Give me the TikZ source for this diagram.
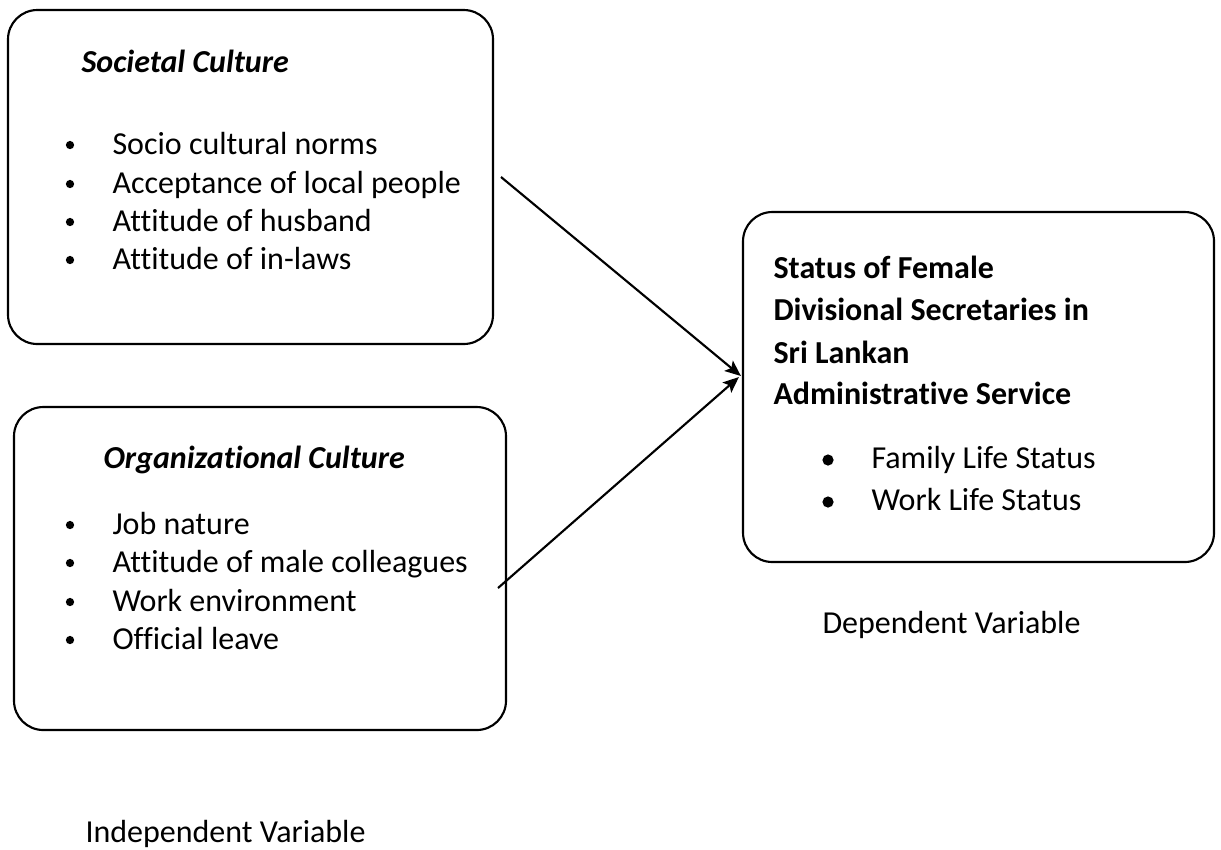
\documentclass[tikz,border=0pt]{standalone}
\usepackage{fontspec}
\setmainfont{Carlito}[Ligatures=NoCommon]
\usepackage{tikz}
\usetikzlibrary{calc, positioning, fit, arrows.meta}

\tikzset{
  box/.style={draw=black, line width=0.8pt, rounded corners=11pt, inner sep=0pt},
  item/.style={anchor=base west, inner sep=0pt},
  dot/.style={circle, fill=black, inner sep=0pt, minimum size=3.1pt},
  bigdot/.style={circle, fill=black, inner sep=0pt, minimum size=4.2pt},
  arr/.style={line width=0.8pt, -{Stealth[length=6pt, width=5pt, inset=1.3pt]}}
}

\begin{document}
\begin{tikzpicture}[x=0.375pt, y=-0.375pt, font=\fontsize{12}{14.4}\selectfont]
          \useasboundingbox (0,0) rectangle (1221,849);
          % Boxes
          \node[box, fit={(8,10) (493,344)}] (societal) {};
          \node[box, fit={(14,407) (506,730)}] (organizational) {};
          \node[box, fit={(743,212) (1214,562)}] (status) {};
          % Societal culture
          \node[item] (socTitle) at (81,72) {\textbf{\textit{Societal Culture}}};
          \node[dot] (socDotA) at (70,145) {};
          \node[item] (socA) at (112,154) {Socio cultural norms};
          \node[dot] (socDotB) at (70,184) {};
          \node[item] (socB) at (112,193) {Acceptance of local people};
          \node[dot] (socDotC) at (70,222) {};
          \node[item] (socC) at (112,231) {Attitude of husband};
          \node[dot] (socDotD) at (70,260) {};
          \node[item] (socD) at (112,269) {Attitude of in-laws};
          % Organizational culture
          \node[item] (orgTitle) at (103,468) {\textbf{\textit{Organizational Culture}}};
          \node[dot] (orgDotA) at (70,525) {};
          \node[item] (orgA) at (112,534) {Job nature};
          \node[dot] (orgDotB) at (70,563) {};
          \node[item] (orgB) at (112,572) {Attitude of male colleagues};
          \node[dot] (orgDotC) at (70,602) {};
          \node[item] (orgC) at (112,611) {Work environment};
          \node[dot] (orgDotD) at (70,640) {};
          \node[item] (orgD) at (112,649) {Official leave};
          % Status of female divisional secretaries
          \node[item] (statA) at (773,278) {\textbf{Status of Female}};
          \node[item] (statB) at (773,320) {\textbf{Divisional Secretaries in}};
          \node[item] (statC) at (773,363) {\textbf{Sri Lankan}};
          \node[item] (statD) at (773,404) {\textbf{Administrative Service}};
          \node[bigdot] (statDotA) at (828,460) {};
          \node[item] (statE) at (871,468) {Family Life Status};
          \node[bigdot] (statDotB) at (828,502) {};
          \node[item] (statF) at (871,510) {Work Life Status};
          % Variable labels
          \node[item] (depLabel) at (822,633) {Dependent Variable};
          \node[item] (indepLabel) at (85,842) {Independent Variable};
          % Arrows
          \coordinate (socOut) at (501,177);
          \coordinate (orgOut) at (498,588);
          \draw[arr] (socOut) -- ($(status.west)+(-1,-11)$);
          \draw[arr] (orgOut) -- ($(status.west)+(-3,-10)$);
        \end{tikzpicture}
\end{document}
